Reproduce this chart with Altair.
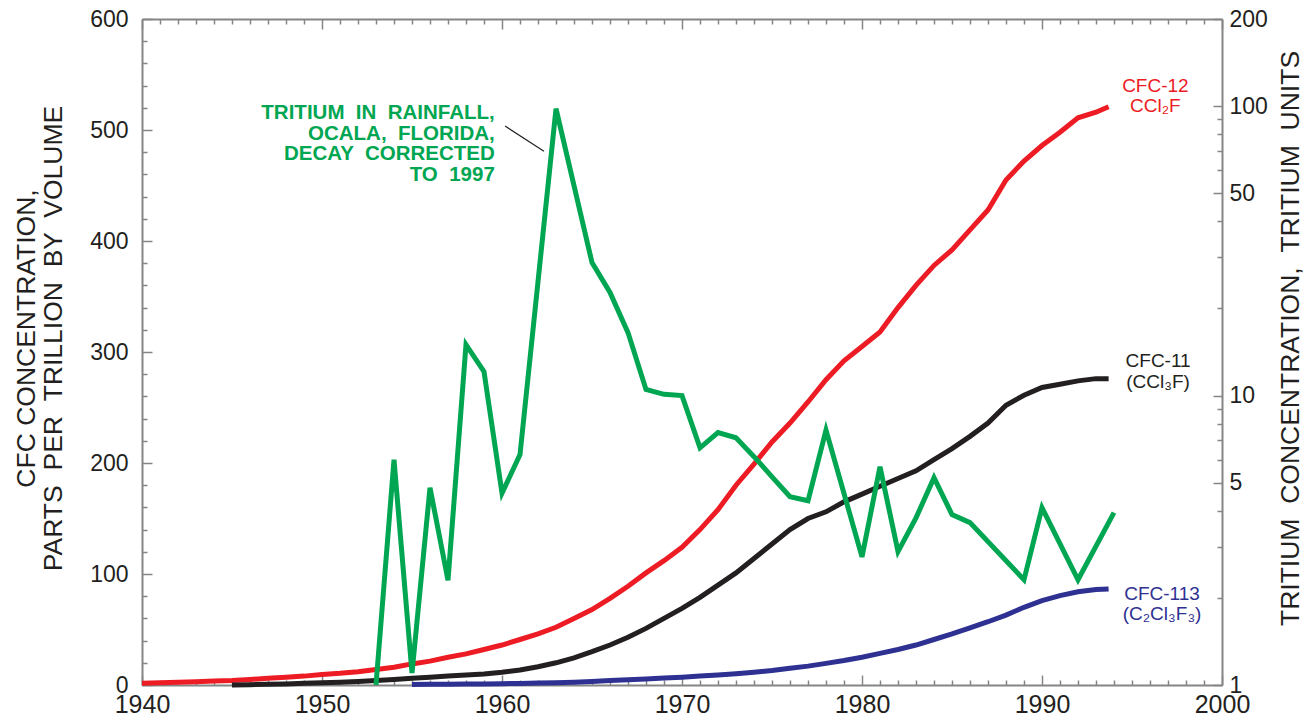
import altair as alt
import pandas as pd

# ---------------- data ----------------
cfc12_years = list(range(1940, 1994)) + [1993.7]
cfc12_values = [1.5, 2, 2.5, 3, 3.5, 4, 5, 6, 7, 8,
                9.5, 10.5, 12, 14, 16, 19, 21.5, 25, 28, 32,
                36, 41, 46, 52, 60, 68, 78, 89, 101, 112,
                124, 140, 158, 180, 199, 219, 236, 255, 275, 292,
                305, 318, 340, 360, 378, 392, 410, 428, 455, 472,
                486, 498, 511, 516, 521]

cfc11_years = list(range(1945, 1994)) + [1993.7]
cfc11_values = [0, 0.3, 0.6, 1, 1.5,
                2, 2.5, 3.2, 4, 5, 6, 7, 8, 9, 10,
                11.5, 13.5, 16.5, 20, 24.5, 30, 36, 43, 51, 60,
                69, 79, 90, 101, 114, 127, 140, 150, 156, 165,
                172, 179, 186, 193, 203, 213, 224, 236, 252, 261,
                268, 271, 274, 276, 276]

cfc113_years = list(range(1955, 1994)) + [1993.7]
cfc113_values = [0.5, 0.6, 0.7, 0.8, 1,
                 1.2, 1.4, 1.7, 2, 2.5, 3.2, 4, 4.7, 5.4, 6.2,
                 7, 8, 9, 10.2, 11.5, 13, 15, 17, 19.5, 22,
                 25, 28.5, 32, 36, 41, 46, 51.5, 57, 63, 70,
                 76, 80.5, 84, 86, 86.5]

tritium_years = [1953, 1954, 1955, 1956, 1957, 1958, 1959, 1960, 1961, 1963,
                 1965, 1966, 1967, 1968, 1969, 1970, 1971, 1972, 1973, 1974,
                 1975, 1976, 1977, 1978, 1980, 1981, 1982, 1983, 1984, 1985,
                 1986, 1989, 1990, 1992, 1994]
tritium_values = [1.0, 6.0, 1.1, 4.8, 2.3, 15.0, 12.1, 4.6, 6.25, 98,
                  28.8, 22.7, 16.5, 10.5, 10.1, 10.0, 6.6, 7.45, 7.15, 6.15,
                  5.24, 4.47, 4.33, 7.6, 2.77, 5.68, 2.89, 3.78, 5.2, 3.88,
                  3.64, 2.31, 4.1, 2.31, 3.94]

series_names = ["CFC-12", "CFC-11", "CFC-113"]
series_colors = ["#ed1c24", "#231f20", "#2e3192"]
GREEN = "#00a651"

cfc_label_text = ["CFC-12", "CCl\u2082F", "CFC-11", "(CCl\u2083F)", "CFC-113", "(C\u2082Cl\u2083F\u2083)"]
cfc_label_series = ["CFC-12", "CFC-12", "CFC-11", "CFC-11", "CFC-113", "CFC-113"]
cfc_label_year = [1996.3, 1996.3, 1996.45, 1996.45, 1996.67, 1996.67]
cfc_label_value = [539.6, 521.6, 291.9, 273.0, 82, 64]

SP = " \u00a0"
tritium_label = ("TRITIUM" + SP + "IN" + SP + "RAINFALL,\nOCALA," + SP + "FLORIDA,\nDECAY" + SP +
                 "CORRECTED\nTO" + SP + "1997")
tritium_label_year = [1959.6]
tritium_label_value = [90.2]
leader_years = [1960.17, 1962.33]
leader_values = [85.3, 69.9]

x_tick_values = list(range(1940, 2001))
left_tick_values = list(range(0, 601, 20))
right_tick_values = [1, 2, 3, 4, 5, 6, 7, 8, 9, 10, 20, 30, 40, 50, 60, 70, 80, 90, 100, 200]

left_title = ["CFC CONCENTRATION,",
              "PARTS" + SP + "PER" + SP + "TRILLION" + SP + "BY" + SP + "VOLUME"]
right_title = "TRITIUM" + SP + "CONCENTRATION," + SP + "TRITIUM" + SP + "UNITS"

# ---------------- tables ----------------
rows = []
for name, ys, vs in [("CFC-12", cfc12_years, cfc12_values),
                     ("CFC-11", cfc11_years, cfc11_values),
                     ("CFC-113", cfc113_years, cfc113_values)]:
    for y, v in zip(ys, vs):
        rows.append({"series": name, "year": y, "value": v})
cfc_df = pd.DataFrame(rows)
lbl_df = pd.DataFrame({"series": cfc_label_series, "year": cfc_label_year,
                       "value": cfc_label_value, "text": cfc_label_text})
tri_df = pd.DataFrame({"year": tritium_years, "value": tritium_values})
tri_lbl_df = pd.DataFrame({"year": tritium_label_year, "value": tritium_label_value,
                           "text": [tritium_label]})
leader_df = pd.DataFrame({"year": leader_years, "value": leader_values})

FONT = "Liberation Sans"
GRAY = "#858585"
TXT = "#231f20"

common_axis = dict(domainColor=GRAY, domainWidth=2, tickColor=GRAY, tickWidth=1.5,
                   grid=False, labelColor=TXT, labelFont=FONT, labelOverlap=False,
                   labelFlush=False)

x_scale = alt.Scale(domain=[1940, 2000], nice=False, zero=False)
color_scale = alt.Scale(domain=series_names, range=series_colors)
cfc_scale = alt.Scale(domain=[0, 600], nice=False)
tri_scale = alt.Scale(type="log", domain=[1, 200], nice=False)

bottom_axis = alt.Axis(orient="bottom", values=x_tick_values, format="d",
                       labelExpr="datum.value % 10 === 0 ? datum.label : ''",
                       tickSize={"expr": "datum.value % 10 === 0 ? -10 : -5"},
                       labelPadding=17, labelFontSize=25, title=None, **common_axis)
top_axis = alt.Axis(orient="top", values=x_tick_values, labels=False,
                    tickSize={"expr": "datum.value % 10 === 0 ? -10 : -5"},
                    title=None, domainColor=GRAY, domainWidth=2, tickColor=GRAY,
                    tickWidth=1.5, grid=False)
left_axis = alt.Axis(orient="left", values=left_tick_values, format="d",
                     labelExpr="datum.value % 100 === 0 ? datum.label : ''",
                     tickSize={"expr": "datum.value % 100 === 0 ? -10 : -5"},
                     labelPadding=24, labelFontSize=23,
                     title=left_title,
                     titleFont=FONT, titleFontSize=26.5, titleFontWeight="normal",
                     titleColor=TXT, titleLineHeight=27, titleAngle=270,
                     titleBaseline="middle", titleAlign="center",
                     titleX=-116, titleY=319, **common_axis)
right_axis = alt.Axis(orient="right", values=right_tick_values, format="d",
                      labelExpr="indexof([1,5,10,50,100,200], datum.value) >= 0 ? datum.label : ''",
                      tickSize={"expr": "indexof([1,5,10,50,100,200], datum.value) >= 0 ? -9 : -5"},
                      labelPadding=16, labelFontSize=23,
                      title=right_title,
                      titleFont=FONT, titleFontSize=26.5, titleFontWeight="normal",
                      titleColor=TXT, titleAngle=270, titleBaseline="middle",
                      titleAlign="center", titleX=68, titleY=319, **common_axis)

cfc_lines = alt.Chart(cfc_df).mark_line(strokeWidth=5).encode(
    x=alt.X("year:Q", scale=x_scale, axis=bottom_axis),
    y=alt.Y("value:Q", scale=cfc_scale, axis=left_axis),
    color=alt.Color("series:N", scale=color_scale, legend=None),
    order="year:Q",
)
cfc_text = alt.Chart(lbl_df).mark_text(font=FONT, fontSize=19, align="center",
                                       baseline="middle").encode(
    x=alt.X("year:Q", axis=None),
    y=alt.Y("value:Q", scale=cfc_scale, axis=None),
    text="text:N",
    color=alt.Color("series:N", scale=color_scale, legend=None),
)
tri_line = alt.Chart(tri_df).mark_line(strokeWidth=5, color=GREEN, clip=True).encode(
    x=alt.X("year:Q", axis=None),
    y=alt.Y("value:Q", scale=tri_scale, axis=right_axis),
)
tri_text = alt.Chart(tri_lbl_df).mark_text(font=FONT, fontSize=20.5, fontWeight="bold",
                                           align="right", baseline="alphabetic",
                                           lineBreak="\n", lineHeight=20.5,
                                           color=GREEN).encode(
    x=alt.X("year:Q", axis=None),
    y=alt.Y("value:Q", scale=tri_scale, axis=None),
    text="text:N",
)
leader = alt.Chart(leader_df).mark_line(color="#231f20", strokeWidth=1.2).encode(
    x=alt.X("year:Q", axis=None),
    y=alt.Y("value:Q", scale=tri_scale, axis=None),
)
top_layer = alt.Chart(cfc_df).mark_point(opacity=0).encode(
    x=alt.X("year:Q", axis=top_axis),
)

chart = alt.layer(cfc_lines, tri_line, top_layer, cfc_text, tri_text, leader).resolve_scale(
    y="independent"
).resolve_axis(
    x="independent", y="independent"
).properties(
    width=1080, height=666,
    autosize=alt.AutoSizeParams(type="none"),
    padding={"left": 134, "top": 11, "right": 85, "bottom": 28},
    background="white",
).configure_view(stroke=None)

chart.save("out.html", embed_options={"renderer": "svg", "actions": False})
